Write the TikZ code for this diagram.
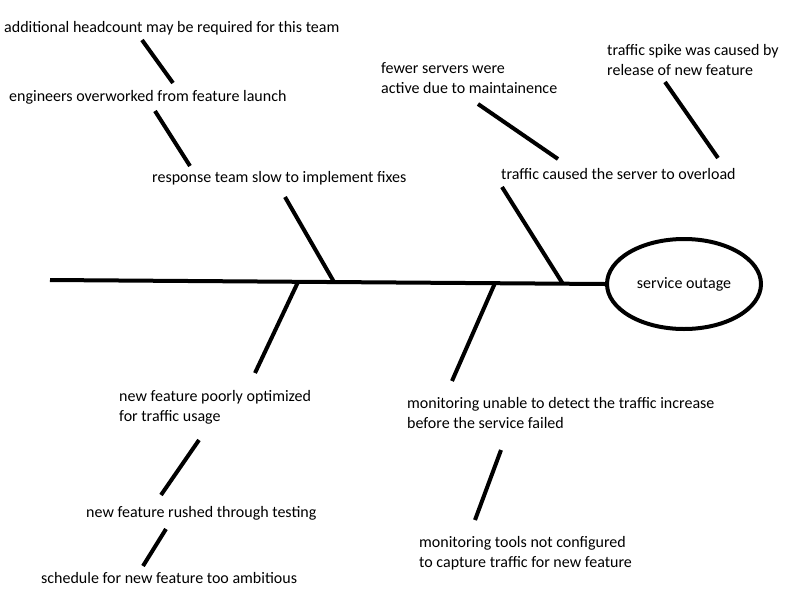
\documentclass[tikz,border=0pt]{standalone}
\usepackage{fontspec}
\setmainfont{Carlito}
\usetikzlibrary{shapes.geometric}
\begin{document}
\begin{tikzpicture}[x=1pt,y=-1pt,
  lbl/.style={anchor=west,inner sep=0pt,align=left,font=\fontsize{16}{20}\selectfont},
  bone/.style={line width=4pt},
  head/.style={ellipse,draw,line width=4pt,minimum width=154pt,minimum height=90pt,inner sep=0pt,font=\fontsize{16}{20}\selectfont}]
\useasboundingbox (0,0) rectangle (800,600);
% head
\node[head] (out) at (684,284) {service outage};
% labels
\node[lbl] (t1) at (4,28) {additional headcount may be required for this team};
\node[lbl] (t2) at (9,97) {engineers overworked from feature launch};
\node[lbl] (t3) at (152,178) {response team slow to implement fixes};
\node[lbl] (t4) at (381,78) {fewer servers were\\active due to maintainence};
\node[lbl] (t5) at (607,60) {traffic spike was caused by\\release of new feature};
\node[lbl] (t6) at (501,174) {traffic caused the server to overload};
\node[lbl] (t7) at (119,407) {new feature poorly optimized\\for traffic usage};
\node[lbl] (t8) at (86,513) {new feature rushed through testing};
\node[lbl] (t9) at (41,578) {schedule for new feature too ambitious};
\node[lbl] (t10) at (407,413) {monitoring unable to detect the traffic increase\\before the service failed};
\node[lbl] (t11) at (419,553) {monitoring tools not configured\\to capture traffic for new feature};
% spine
\coordinate (tail) at (50,280);
\coordinate (s1) at (334,282);
\coordinate (s2) at (563,284);
\coordinate (s3) at (298,282);
\coordinate (s4) at (495,283);
\draw[bone] (tail) -- (out.west);
% main bones
\coordinate (b1) at (285,197);
\coordinate (b2) at (502,187);
\coordinate (b3) at (255,373);
\coordinate (b4) at (452,381);
\draw[bone] (b1) -- (s1);
\draw[bone] (b2) -- (s2);
\draw[bone] (s3) -- (b3);
\draw[bone] (s4) -- (b4);
% sub bones
\coordinate (c1a) at (142,40);  \coordinate (c1b) at (173,83);
\coordinate (c2a) at (155,111); \coordinate (c2b) at (190,166);
\coordinate (c3a) at (478,104); \coordinate (c3b) at (558,159);
\coordinate (c4a) at (665,82);  \coordinate (c4b) at (718,158);
\coordinate (c5a) at (199,440); \coordinate (c5b) at (161,495);
\coordinate (c6a) at (166,529); \coordinate (c6b) at (143,566);
\coordinate (c7a) at (501,450); \coordinate (c7b) at (475,520);
\draw[bone] (c1a) -- (c1b);
\draw[bone] (c2a) -- (c2b);
\draw[bone] (c3a) -- (c3b);
\draw[bone] (c4a) -- (c4b);
\draw[bone] (c5a) -- (c5b);
\draw[bone] (c6a) -- (c6b);
\draw[bone] (c7a) -- (c7b);
\end{tikzpicture}
\end{document}
